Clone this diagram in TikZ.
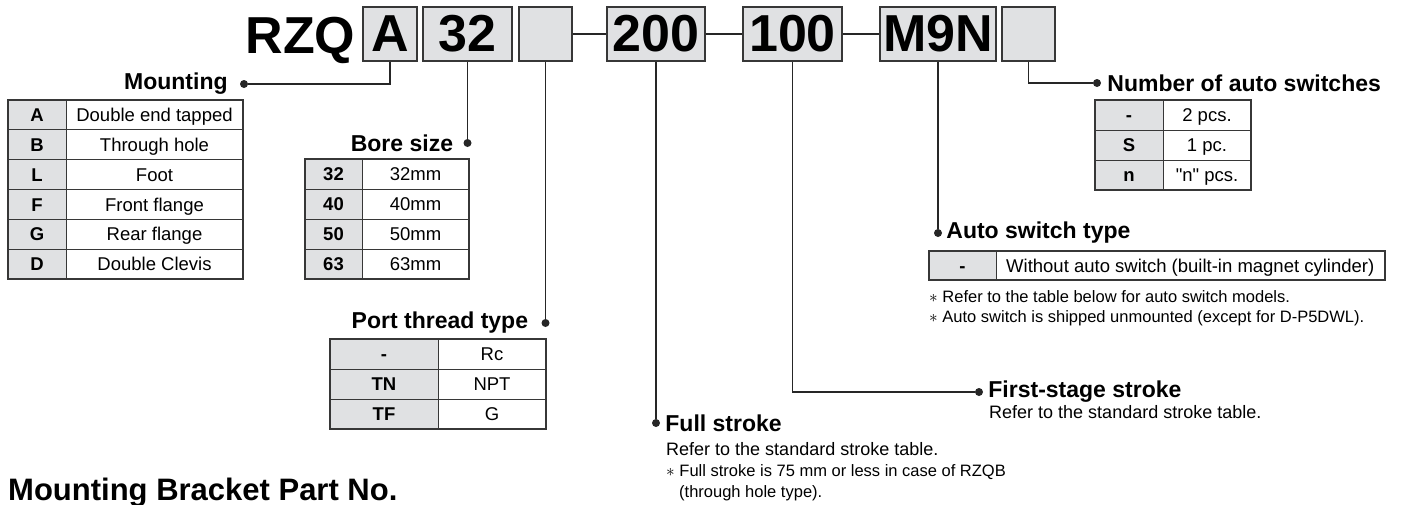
\documentclass[tikz,border=0pt]{standalone}
\usepackage{fontspec}
\setmainfont{Liberation Sans}
\usetikzlibrary{positioning}
\definecolor{codegray}{RGB}{224,225,227}
\definecolor{framegray}{RGB}{55,55,55}
\newcommand{\noteast}{{\fontsize{18}{18}\selectfont$\ast$}}
\tikzset{
  codebox/.style={draw=framegray, line width=1.8pt, fill=codegray, inner sep=0pt,
    minimum height=54pt, font=\fontsize{52}{52}\selectfont\bfseries},
  codetext/.style={inner sep=0pt, font=\fontsize{52}{52}\selectfont\bfseries},
  lead/.style={line width=1.6pt, draw=black!85},
  dotend/.style={circle, fill=black!85, inner sep=0pt, minimum size=8pt},
  heading/.style={inner sep=0pt, font=\fontsize{23}{23}\selectfont\bfseries},
  cell/.style={inner sep=0pt, font=\fontsize{18.5}{18.5}\selectfont},
  keycell/.style={inner sep=0pt, font=\fontsize{18.5}{18.5}\selectfont\bfseries},
  bodytext/.style={inner sep=0pt, font=\fontsize{18}{18}\selectfont},
  note/.style={inner sep=0pt, font=\fontsize{16.5}{16.5}\selectfont},
  tframe/.style={draw=framegray, line width=1.3pt},
  tline/.style={draw=framegray, line width=0.9pt},
}
\begin{document}
\begin{tikzpicture}[x=1pt,y=-1pt]
  \useasboundingbox (0,0) rectangle (1401,504);
  % part number
  \node[codetext, anchor=base] (rzq) at (300.5,53) {RZQ};
  \node[codebox, minimum width=54pt] (boxA) at (390,34) {A};
  \node[codebox, minimum width=89pt] (box32) at (467.5,34) {32};
  \node[codebox, minimum width=53pt] (boxP) at (545.5,34) {};
  \node[codebox, minimum width=98pt] (box200) at (656,34) {200};
  \node[codebox, minimum width=99pt] (box100) at (792.5,34) {100};
  \node[codebox, minimum width=116pt] (boxM) at (938,34) {M9N};
  \node[codebox, minimum width=53pt] (boxN) at (1028.5,34) {};
  \draw[lead] (boxP.east) -- (box200.west);
  \draw[lead] (box200.east) -- (box100.west);
  \draw[lead] (box100.east) -- (boxM.west);

  % leads and headings
  \node[dotend] (dotA) at (244,84) {};
  \node[dotend] (dot32) at (467.5,143) {};
  \node[dotend] (dotP) at (545.5,323) {};
  \node[dotend] (dot200) at (656,423) {};
  \node[dotend] (dot100) at (979,392) {};
  \node[dotend] (dotM) at (938,233) {};
  \node[dotend] (dotN) at (1097,83) {};
  \draw[lead] (boxA.south) |- (dotA);
  \draw[lead] (box32.south) -- (dot32);
  \draw[lead] (boxP.south) -- (dotP);
  \draw[lead] (box200.south) -- (dot200);
  \draw[lead] (box100.south) |- (dot100);
  \draw[lead] (boxM.south) -- (dotM);
  \draw[lead] (boxN.south) |- (dotN);
  \node[heading, left=12pt of dotA] (mounting) {Mounting};
  \node[heading, left=10pt of dot32] (bore) {Bore size};
  \node[heading, left=13pt of dotP] (port) {Port thread type};
  \node[heading, right=5pt of dot200] (full) {Full stroke};
  \node[heading, right=5pt of dot100] (first) {First-stage stroke};
  \node[heading, right=4pt of dotM] (autosw) {Auto switch type};
  \node[heading, right=6pt of dotN] (number) {Number of auto switches};

  % mounting table
  \fill[codegray] (8,100) rectangle (66,279);
  \foreach \i in {1,...,5} \draw[tline] (8,{100+29.83*\i}) -- (243,{100+29.83*\i});
  \draw[tline] (66,100) -- (66,279);
  \draw[tframe] (8,100) rectangle (243,279);
  \foreach \k/\v [count=\i] in {A/Double end tapped, B/Through hole, L/Foot,
      F/Front flange, G/Rear flange, D/Double Clevis} {
    \node[keycell, anchor=base] (mnt-k\i) at (37,{100+29.83*(\i-0.5)+6.6}) {\k};
    \node[cell, anchor=base] (mnt-v\i) at (154.5,{100+29.83*(\i-0.5)+6.6}) {\v};
  }

  % bore table
  \fill[codegray] (305,159) rectangle (362,279);
  \foreach \i in {1,2,3} \draw[tline] (305,{159+30*\i}) -- (469,{159+30*\i});
  \draw[tline] (362,159) -- (362,279);
  \draw[tframe] (305,159) rectangle (469,279);
  \foreach \k [count=\i] in {32,40,50,63} {
    \node[keycell, anchor=base] (bore-k\i) at (333.5,{159+30*(\i-0.5)+6.6}) {\k};
    \node[cell, anchor=base] (bore-v\i) at (415.5,{159+30*(\i-0.5)+6.6}) {\k mm};
  }

  % port table
  \fill[codegray] (330,339) rectangle (438,429);
  \foreach \i in {1,2} \draw[tline] (330,{339+30*\i}) -- (546,{339+30*\i});
  \draw[tline] (438,339) -- (438,429);
  \draw[tframe] (330,339) rectangle (546,429);
  \foreach \k/\v [count=\i] in {-/Rc, TN/NPT, TF/G} {
    \node[keycell, anchor=base] (port-k\i) at (384,{339+30*(\i-0.5)+6.6}) {\k};
    \node[cell, anchor=base] (port-v\i) at (492,{339+30*(\i-0.5)+6.6}) {\v};
  }

  % number of switches table
  \fill[codegray] (1095,100) rectangle (1163,190);
  \foreach \i in {1,2} \draw[tline] (1095,{100+30*\i}) -- (1251,{100+30*\i});
  \draw[tline] (1163,100) -- (1163,190);
  \draw[tframe] (1095,100) rectangle (1251,190);
  \foreach \k/\v [count=\i] in {-/2 pcs., S/1 pc., n/\textquotedbl n\textquotedbl\ pcs.} {
    \node[keycell, anchor=base] (num-k\i) at (1129,{100+30*(\i-0.5)+6.6}) {\k};
    \node[cell, anchor=base] (num-v\i) at (1207,{100+30*(\i-0.5)+6.6}) {\v};
  }

  % auto switch table
  \fill[codegray] (929,251) rectangle (996,280);
  \draw[tline] (996,251) -- (996,280);
  \draw[tframe] (929,251) rectangle (1385,280);
  \node[keycell, anchor=base] (sw-k1) at (962.5,272.1) {-};
  \node[cell, anchor=base west] (sw-v1) at (1006,272.1) {Without auto switch (built-in magnet cylinder)};
  \node[note, anchor=base west] (sw-n1) at (929,302) {\noteast\ Refer to the table below for auto switch models.};
  \node[note, anchor=base west] (sw-n2) at (929,322) {\noteast\ Auto switch is shipped unmounted (except for D-P5DWL).};

  % stroke notes
  \node[bodytext, anchor=base west] (full-t1) at (666,455) {Refer to the standard stroke table.};
  \node[note, anchor=base west] (full-t2) at (666,476) {\noteast\ Full stroke is 75 mm or less in case of RZQB};
  \node[note, anchor=base west] (full-t3) at (679,497) {(through hole type).};
  \node[bodytext, anchor=base west] (first-t1) at (989,418) {Refer to the standard stroke table.};

  % bracket title
  \node[inner sep=0pt, anchor=base west, font=\fontsize{31}{31}\selectfont\bfseries] (bracket) at (8,500) {Mounting Bracket Part No.};
\end{tikzpicture}
\end{document}
